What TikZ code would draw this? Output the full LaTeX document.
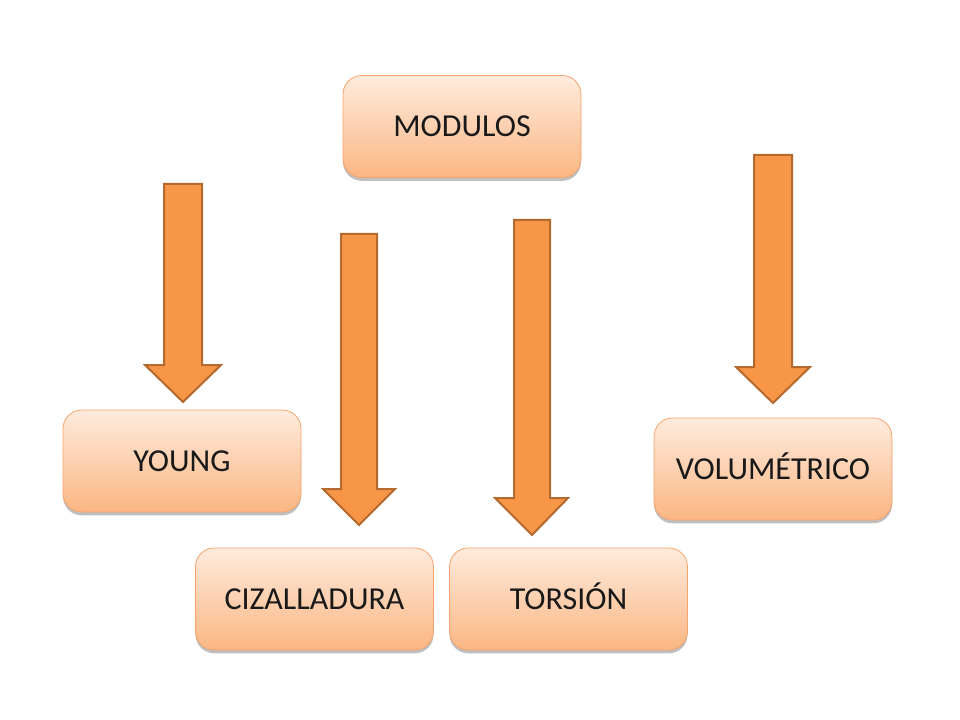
\documentclass[tikz,border=0pt]{standalone}
\usepackage{fontspec}
\setmainfont{Carlito}
\usetikzlibrary{shadows}
\definecolor{boxtop}{HTML}{FEEBDD}
\definecolor{boxbot}{HTML}{FBB683}
\definecolor{boxline}{HTML}{F6A46C}
\definecolor{arrfill}{HTML}{F79646}
\definecolor{arrline}{HTML}{B4692F}
\tikzset{
  box/.style={rectangle, rounded corners=14pt, minimum width=178.5pt, minimum height=76.5pt,
    top color=boxtop, bottom color=boxbot, draw=boxline, line width=0.6pt,
    font=\fontsize{24}{28}\selectfont, text=black!90, text height=15.5pt, text depth=0pt,
    drop shadow={shadow xshift=0pt, shadow yshift=-2.5pt, opacity=0.25, fill=black}},
  blockarrow/.style={fill=arrfill, draw=arrline, line width=1.5pt, line join=miter}
}
\newcommand\myblockarrow[7]{% shaftL shaftR top headbase headL headR tip
  \draw[blockarrow] (#1,#3) -- (#2,#3) -- (#2,#4) -- (#6,#4) -- ({(#1+#2)/2},#7) -- (#5,#4) -- (#1,#4) -- cycle;}
\begin{document}
\begin{tikzpicture}[x=0.75pt,y=-0.75pt]
\useasboundingbox[fill=white] (0,0) rectangle (960,720);
\node[box] (mod) at (462,126.5) {MODULOS};
\node[box] (young) at (182,461) {YOUNG};
\node[box] (vol) at (773,469) {VOLUMÉTRICO};
\node[box] (ciz) at (314.5,599) {CIZALLADURA};
\node[box] (tor) at (568.5,599) {TORSIÓN};
\myblockarrow{164}{202}{184}{365}{145}{221}{402}
\myblockarrow{341}{377}{234}{489}{323}{395}{525}
\myblockarrow{514}{550}{220}{498}{495}{568}{535}
\myblockarrow{754}{792}{155}{367}{736}{810}{403}
\end{tikzpicture}
\end{document}
